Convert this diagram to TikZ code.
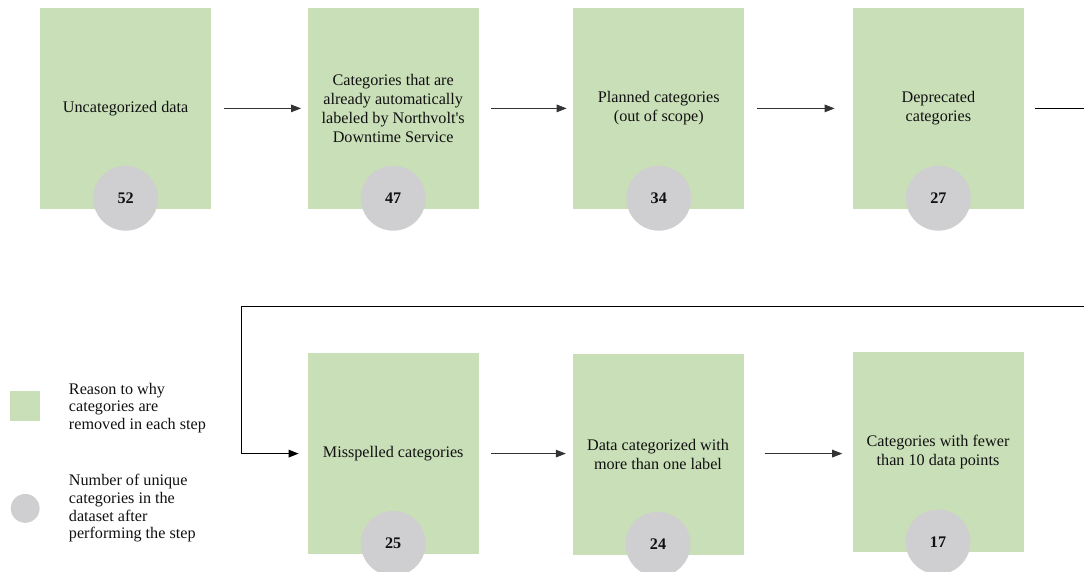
\documentclass[tikz,border=0pt]{standalone}
\usepackage{fontspec}
\setmainfont{Liberation Serif}
\usepackage{xcolor}
\usepackage{tikz}
\usetikzlibrary{arrows.meta, positioning}
\definecolor{Ink}{HTML}{111111}
\definecolor{Wire}{HTML}{333333}
\definecolor{SoftGreen}{HTML}{C9DFB8}
\definecolor{SoftGray}{HTML}{CFCED0}

\begin{document}
\begin{tikzpicture}[
  font=\fontsize{11.5pt}{13.5pt}\selectfont,
  stepbox/.style={rectangle, fill=SoftGreen, minimum width=4.275cm, minimum height=5.02cm, align=center, text=Ink},
  count/.style={circle, fill=SoftGray, minimum size=1.62cm, inner sep=0pt, font=\fontsize{11.5pt}{13.5pt}\selectfont\bfseries, text=Ink},
  arrow/.style={-{Triangle[length=2.5mm, width=1.9mm]}, line width=0.55pt, draw=Wire, shorten <=0.31cm, shorten >=0.16cm},
  legend/.style={align=left, anchor=west, font=\fontsize{11.5pt}{12.5pt}\selectfont, text=Ink}
]
\useasboundingbox (0,0) rectangle (27.1,-14.3);

% first row
\node[stepbox] (b1) at (3.14,-2.71) {Uncategorized data};
\node[stepbox] (b2) at (9.83,-2.71) {Categories that are\\already automatically\\labeled by Northvolt\textquotesingle s\\Downtime Service};
\node[stepbox] (b3) at (16.47,-2.71) {Planned categories\\(out of scope)};
\node[stepbox] (b4) at (23.46,-2.71) {Deprecated\\categories};

% second row
\node[stepbox] (b5) at (9.83,-11.34) {Misspelled categories};
\node[stepbox] (b6) at (16.45,-11.36) {Data categorized with\\more than one label};
\node[stepbox] (b7) at (23.45,-11.30) {Categories with fewer\\than 10 data points};

% counts
\node[count] (n1) at ([yshift=0.27cm]b1.south) {52};
\node[count] (n2) at ([yshift=0.27cm]b2.south) {47};
\node[count] (n3) at ([yshift=0.27cm]b3.south) {34};
\node[count] (n4) at ([yshift=0.27cm]b4.south) {27};
\node[count] (n5) at ([yshift=0.27cm]b5.south) {25};
\node[count] (n6) at ([yshift=0.27cm]b6.south) {24};
\node[count] (n7) at ([yshift=0.27cm]b7.south) {17};

\draw[arrow] (b1) -- (b2);
\draw[arrow] (b2) -- (b3);
\draw[arrow, shorten >=0.45cm] (b3) -- (b4);

% wrap back to the second row
\coordinate (turnR) at (27.6,-7.67);
\coordinate (turnL) at (6.04,-7.67);
\draw[arrow, draw=black, line width=0.9pt, shorten <=0.28cm, shorten >=0.22cm] (b4.east) -- (b4.east -| turnR) -- (turnR) -- (turnL) |- (b5.west);

\draw[arrow] (b5.east) -- (b5.east -| b6.west);
\draw[arrow, shorten <=0.52cm, shorten >=0.25cm] (b5.east -| b6.east) -- (b5.east -| b7.west);

% legend
\node[rectangle, fill=SoftGreen, minimum size=0.75cm, inner sep=0pt] (keybox) at (0.63,-10.14) {};
\node[legend] (keyboxtext) at (1.6,-10.2) {Reason to why\\categories are\\removed in each step};
\node[circle, fill=SoftGray, minimum size=0.72cm, inner sep=0pt] (keydot) at (0.63,-12.71) {};
\node[legend] (keydottext) at (1.6,-12.71) {Number of unique\\categories in the\\dataset after\\performing the step};
\end{tikzpicture}
\end{document}
